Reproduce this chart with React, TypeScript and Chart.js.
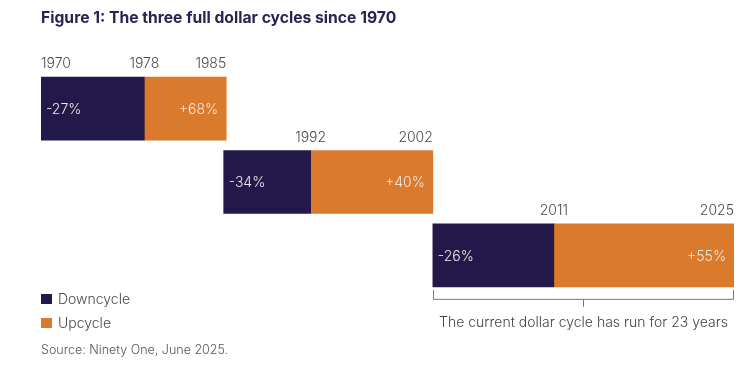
import React, { useEffect, useRef } from "react";
import { Chart, registerables } from "chart.js";

Chart.register(...registerables);

// ---- data ----
const rows = ["Cycle 1", "Cycle 2", "Cycle 3"];
const cycleStart = [1970, 1984.5, 2001.1];
const cycleTrough = [1978.2, 1991.4, 2010.7];
const cycleEnd = [1984.7, 2001.1, 2025];
const downPct = [-27, -34, -26];
const upPct = [68, 40, 55];
const startYearLabels = ["1970", "", ""];
const troughYearLabels = ["1978", "1992", "2011"];
const endYearLabels = ["1985", "2002", "2025"];
const seriesNames = ["Downcycle", "Upcycle"];
const titleText = "Figure 1: The three full dollar cycles since 1970";
const noteText = "The current dollar cycle has run for 23 years";
const sourceText = "Source: Ninety One, June 2025.";

const NAVY = "#22184a";
const ORANGE = "#d97a2c";
const FONT = "Inter, 'Noto Sans', sans-serif";

const fmtPct = (v: number) => (v > 0 ? "+" : "") + v + "%";

const labelPlugin = {
  id: "cycleLabels",
  afterDatasetsDraw(chart: any) {
    const ctx = chart.ctx as CanvasRenderingContext2D;
    const xs = chart.scales.x;
    const ys = chart.scales.y;
    const half = 31.5;
    ctx.save();
    rows.forEach((_, i) => {
      const yc = ys.getPixelForValue(i);
      const x0 = xs.getPixelForValue(cycleStart[i]);
      const x1 = xs.getPixelForValue(cycleTrough[i]);
      const x2 = xs.getPixelForValue(cycleEnd[i]);
      const top = yc - half;
      // year labels
      ctx.font = `300 14px ${FONT}`;
      ctx.fillStyle = "#4a4a4a";
      ctx.textBaseline = "alphabetic";
      if (startYearLabels[i]) {
        ctx.textAlign = "left";
        ctx.fillText(startYearLabels[i], x0, top - 9);
      }
      ctx.textAlign = "center";
      ctx.fillText(troughYearLabels[i], x1, top - 9);
      ctx.textAlign = "right";
      ctx.fillText(endYearLabels[i], x2, top - 9);
      // percentage labels
      ctx.font = `300 14px ${FONT}`;
      ctx.fillStyle = "#f3e9e0";
      ctx.textBaseline = "middle";
      ctx.textAlign = "left";
      ctx.fillText(fmtPct(downPct[i]), x0 + 5, yc + 1);
      ctx.textAlign = "right";
      ctx.fillText(fmtPct(upPct[i]), x2 - 8, yc + 1);
    });
    // bracket under the current cycle
    const last = rows.length - 1;
    const bx0 = xs.getPixelForValue(cycleStart[last]);
    const bx1 = xs.getPixelForValue(cycleEnd[last]);
    const bBottom = ys.getPixelForValue(last) + half;
    const by = bBottom + 12;
    ctx.strokeStyle = "#777777";
    ctx.lineWidth = 1;
    ctx.beginPath();
    ctx.moveTo(Math.round(bx0) + 0.5, bBottom + 3);
    ctx.lineTo(Math.round(bx0) + 0.5, by + 0.5);
    ctx.lineTo(Math.round(bx1) - 0.5, by + 0.5);
    ctx.lineTo(Math.round(bx1) - 0.5, bBottom + 3);
    const mid = Math.round((bx0 + bx1) / 2) + 0.5;
    ctx.moveTo(mid, by + 0.5);
    ctx.lineTo(mid, by + 8);
    ctx.stroke();
    ctx.font = `300 14px ${FONT}`;
    ctx.fillStyle = "#444444";
    ctx.textAlign = "center";
    ctx.textBaseline = "alphabetic";
    ctx.fillText(noteText, mid, by + 28);
    ctx.restore();
  },
};

export default function App() {
  const ref = useRef<HTMLCanvasElement | null>(null);
  useEffect(() => {
    if (!ref.current) return;
    const chart = new Chart(ref.current, {
      type: "bar",
      data: {
        labels: rows,
        datasets: [
          {
            label: seriesNames[0],
            data: rows.map((_, i) => [cycleStart[i], cycleTrough[i]]) as any,
            backgroundColor: NAVY,
            grouped: false,
            barThickness: 63,
            borderWidth: 0,
          } as any,
          {
            label: seriesNames[1],
            data: rows.map((_, i) => [cycleTrough[i], cycleEnd[i]]) as any,
            backgroundColor: ORANGE,
            grouped: false,
            barThickness: 63,
            borderWidth: 0,
          } as any,
        ],
      },
      options: {
        indexAxis: "y",
        animation: false,
        responsive: false,
        maintainAspectRatio: false,
        layout: { padding: { left: 41, right: 22, top: 72, bottom: 74 } },
        scales: {
          x: { type: "linear", min: 1970, max: 2025, display: false },
          y: { type: "category", display: false, offset: true },
        },
        plugins: {
          legend: { display: false },
          tooltip: { enabled: false },
          title: { display: false },
        },
      },
      plugins: [labelPlugin],
    });
    return () => chart.destroy();
  }, []);

  const textBase: React.CSSProperties = {
    position: "absolute",
    fontFamily: FONT,
    whiteSpace: "nowrap",
    margin: 0,
  };

  return (
    <div style={{ position: "absolute", left: 0, top: 0, width: 756, height: 366, background: "#fff" }}>
      <canvas ref={ref} width={756} height={366} style={{ position: "absolute", left: 0, top: 0, width: 756, height: 366 }} />
      <div style={{ ...textBase, left: 41, top: 9, fontSize: 15.7, lineHeight: "18px", fontWeight: 700, color: "#2a2250" }}>
        {titleText}
      </div>
      {seriesNames.map((name, i) => (
        <div key={name} style={{ ...textBase, left: 41, top: 291 + i * 24, height: 16, display: "flex", alignItems: "center" }}>
          <span style={{ display: "inline-block", width: 11, height: 10, background: i === 0 ? NAVY : ORANGE, marginRight: 6 }} />
          <span style={{ fontSize: 14, fontWeight: 300, color: "#4a4a4a", lineHeight: "16px" }}>{name}</span>
        </div>
      ))}
      <div style={{ ...textBase, left: 41, top: 342, fontSize: 12.5, lineHeight: "16px", fontWeight: 300, color: "#555" }}>
        {sourceText}
      </div>
    </div>
  );
}
